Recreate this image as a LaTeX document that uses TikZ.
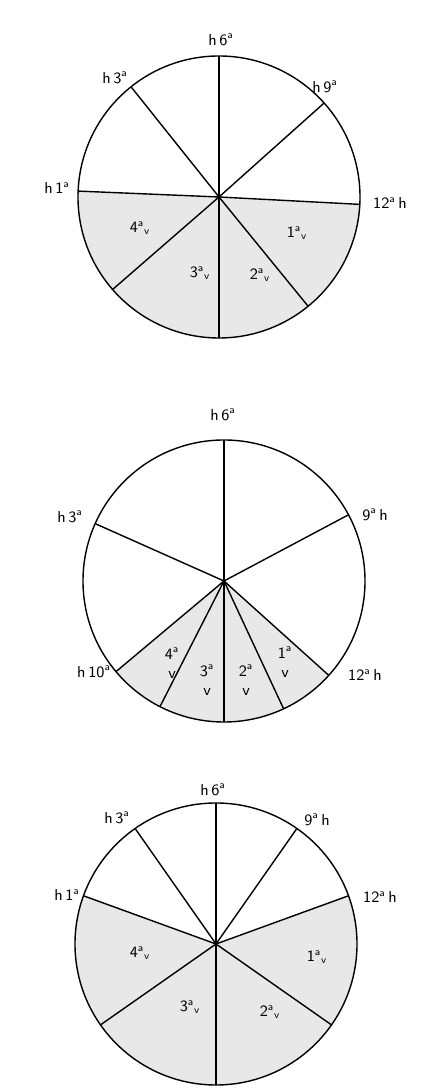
\documentclass[tikz,border=0pt]{standalone}
\usetikzlibrary{calc}
\definecolor{stip}{HTML}{E8E8E8}

\tikzset{
  lab/.style={font=\sffamily\small,inner sep=1pt},
  vlab/.style={font=\sffamily\small,inner sep=0.5pt,align=center},
  spoke/.style={line width=0.8pt},
  sector/.style={fill=stip},
}
\newcommand{\hord}[1]{h\,#1\textsuperscript{a}}
\newcommand{\ordh}[1]{#1\textsuperscript{a}\,h}
\newcommand{\ordv}[1]{#1\textsuperscript{a}\textsubscript{v}}

\begin{document}
\begin{tikzpicture}[x=0.02cm,y=0.02cm]
  \useasboundingbox (0,0) rectangle (434,1092);
  \def\r{141}

  % first disc
  \coordinate (O1) at (219,895);
  \fill[sector] (O1) -- ($(O1)+(177.6:\r)$) arc (177.6:357:\r) -- cycle;
  \foreach \a in {41.8,90,128.6,177.6,221,270,309.2,357}
    \draw[spoke] (O1) -- ($(O1)+(\a:\r)$);
  \draw[spoke] (O1) circle (\r);
  \node[lab] (a6) at (221,1052) {\hord{6}};
  \node[lab] (a3) at (115,1014) {\hord{3}};
  \node[lab] (a9) at (325,1005) {\hord{9}};
  \node[lab] (a1) at (57,904) {\hord{1}};
  \node[lab] (a12) at (390,889) {\ordh{12}};
  \node[lab] (av4) at (140,864) {\ordv{4}};
  \node[lab] (av3) at (200,819) {\ordv{3}};
  \node[lab] (av2) at (260,817) {\ordv{2}};
  \node[lab] (av1) at (297,859) {\ordv{1}};

  % second disc
  \coordinate (O2) at (224,511);
  \fill[sector] (O2) -- ($(O2)+(220:\r)$) arc (220:318:\r) -- cycle;
  \foreach \a in {28,90,156,220,243,270,295,318}
    \draw[spoke] (O2) -- ($(O2)+(\a:\r)$);
  \draw[spoke] (O2) circle (\r);
  \node[lab] (b6) at (223,677) {\hord{6}};
  \node[lab] (b3) at (70,575) {\hord{3}};
  \node[lab] (b9) at (375,577) {\ordh{9}};
  \node[lab] (b10) at (94,420) {\hord{10}};
  \node[lab] (b12) at (365,417) {\ordh{12}};
  \node[vlab] (bv4) at (172,429) {4\textsuperscript{a}\\v};
  \node[vlab] (bv3) at (207,412) {3\textsuperscript{a}\\v};
  \node[vlab] (bv2) at (246,412) {2\textsuperscript{a}\\v};
  \node[vlab] (bv1) at (285,430) {1\textsuperscript{a}\\v};

  % third disc
  \coordinate (O3) at (216,148);
  \fill[sector] (O3) -- ($(O3)+(160:\r)$) arc (160:380:\r) -- cycle;
  \foreach \a in {20,55,90,125,160,215,270,325}
    \draw[spoke] (O3) -- ($(O3)+(\a:\r)$);
  \draw[spoke] (O3) circle (\r);
  \node[lab] (c6) at (213,302) {\hord{6}};
  \node[lab] (c3) at (117,274) {\hord{3}};
  \node[lab] (c9) at (317,272) {\ordh{9}};
  \node[lab] (c1) at (67,197) {\hord{1}};
  \node[lab] (c12) at (380,195) {\ordh{12}};
  \node[lab] (cv4) at (140,139) {\ordv{4}};
  \node[lab] (cv3) at (190,85) {\ordv{3}};
  \node[lab] (cv2) at (270,80) {\ordv{2}};
  \node[lab] (cv1) at (317,135) {\ordv{1}};
\end{tikzpicture}
\end{document}
